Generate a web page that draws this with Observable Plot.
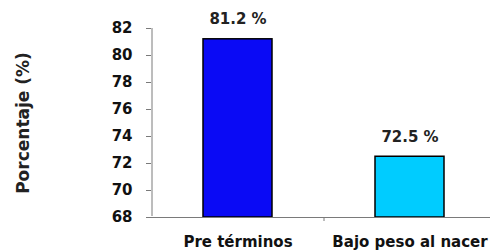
<!DOCTYPE html>
<html>
<head>
<meta charset="utf-8">
<script src="https://cdn.jsdelivr.net/npm/d3@7"></script>
<script src="https://cdn.jsdelivr.net/npm/@observablehq/plot@0.6"></script>
<style>
  html, body { margin: 0; padding: 0; background: #fff; }
  svg { display: block; }
</style>
</head>
<body>
<div id="chart"></div>
<script>
const categories = ["Pre términos", "Bajo peso al nacer"];
const values = [81.2, 72.5];
const valueLabels = ["81.2 %", "72.5 %"];
const barColors = ["#0A0AF5", "#00CCFF"];
const yTicks = [68, 70, 72, 74, 76, 78, 80, 82];
const yDomain = [68, 82];
const yTitle = "Porcentaje (%)";

const data = categories.map((c, i) => ({cat: c, value: values[i], label: valueLabels[i], color: barColors[i]}));

const xRange = [151, 495];
const step = (xRange[1] - xRange[0]) / categories.length;
const axisColor = "#7a7a7a";

const chart = Plot.plot({
  width: 490,
  height: 252,
  marginTop: 28,
  marginBottom: 35,
  marginLeft: 151,
  marginRight: 0,
  style: {fontFamily: "DejaVu Sans", fontWeight: "bold", fontSize: "15px", color: "#111", background: "#fff"},
  x: {domain: categories, range: xRange, paddingInner: 0.6, paddingOuter: 0.3, label: null},
  y: {domain: yDomain, label: null},
  marks: [
    Plot.barY(data, {x: "cat", y1: yDomain[0], y2: "value", fill: "color", stroke: "#000", strokeWidth: 1.5}),
    Plot.axisY({ticks: yTicks, tickSize: 5, tickPadding: 14, stroke: axisColor, tickFormat: d => String(d), label: null, fontSize: 15, fontWeight: "bold"}),
    Plot.axisX({tickSize: 0, tickPadding: 19, label: null, fontSize: 15, fontWeight: "bold"}),
    // x axis line
    Plot.ruleY([yDomain[0]], {stroke: axisColor, strokeWidth: 1, insetLeft: -5}),
    // y axis line at the left edge of the first band
    Plot.ruleX([categories[0]], {dx: -step / 2, y1: yDomain[0], y2: yDomain[1], insetTop: -1, stroke: axisColor}),
    // tick between categories
    Plot.ruleX([categories[1]], {dx: -step / 2, y1: yDomain[0], y2: yDomain[0], insetBottom: -4, stroke: axisColor}),
    Plot.text(data, {x: "cat", y: "value", text: "label", dy: -15, lineAnchor: "bottom", fill: "#222", fontSize: 15, fontWeight: "bold"}),
    Plot.text([yTitle], {frameAnchor: "left", textAnchor: "middle", dx: -128, rotate: -90, text: d => d, fontSize: 17, fontWeight: "bold", fill: "#222"})
  ]
});
document.getElementById("chart").appendChild(chart);
</script>
</body>
</html>
